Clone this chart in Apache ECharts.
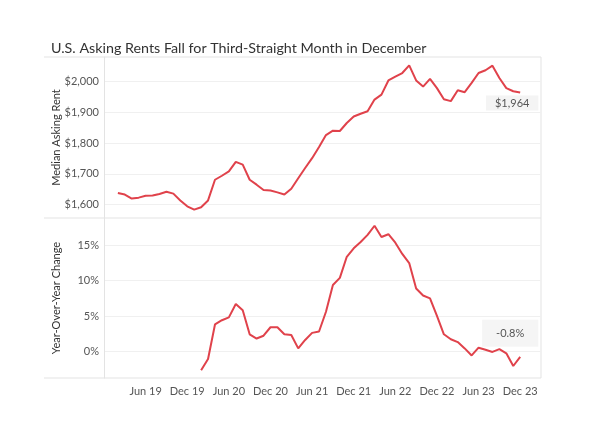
<!DOCTYPE html>
<html><head><meta charset="utf-8">
<script src="https://cdn.jsdelivr.net/npm/echarts@6/dist/echarts.min.js"></script>
<style>html,body{margin:0;padding:0;background:#fff}#c{width:600px;height:446px}</style>
</head><body><div id="c"></div>
<script>
const months = ['2019-02','2019-03','2019-04','2019-05','2019-06','2019-07','2019-08','2019-09','2019-10','2019-11','2019-12',
'2020-01','2020-02','2020-03','2020-04','2020-05','2020-06','2020-07','2020-08','2020-09','2020-10','2020-11','2020-12',
'2021-01','2021-02','2021-03','2021-04','2021-05','2021-06','2021-07','2021-08','2021-09','2021-10','2021-11','2021-12',
'2022-01','2022-02','2022-03','2022-04','2022-05','2022-06','2022-07','2022-08','2022-09','2022-10','2022-11','2022-12',
'2023-01','2023-02','2023-03','2023-04','2023-05','2023-06','2023-07','2023-08','2023-09','2023-10','2023-11','2023-12'];
const rent = [1638,1633,1620,1623,1629,1630,1635,1642,1636,1614,1595,
1584,1592,1614,1681,1694,1708,1739,1730,1681,1665,1648,1646,
1640,1633,1652,1686,1719,1751,1787,1826,1840,1839,1865,1886,
1895,1903,1941,1957,2003,2015,2027,2052,2003,1983,2008,1978,
1942,1936,1971,1965,1995,2027,2036,2051,2011,1978,1968,1964];
const yoyStart = '2020-02';
const yoy = [-2.7,-1.1,3.8,4.4,4.8,6.7,5.8,2.4,1.8,2.2,3.4,
3.4,2.4,2.3,0.4,1.6,2.6,2.8,5.6,9.4,10.4,13.4,14.6,
15.5,16.5,17.8,16.2,16.6,15.4,13.8,12.5,8.9,7.9,7.5,5.0,
2.4,1.7,1.3,0.4,-0.6,0.5,0.2,-0.1,0.3,-0.3,-2.1,-0.8];
const xTickLabels = ['Jun 19','Dec 19','Jun 20','Dec 20','Jun 21','Dec 21','Jun 22','Dec 22','Jun 23','Dec 23'];
const rentTicks = [1600,1700,1800,1900,2000];
const yoyTicks = [0,5,10,15];

function idx(m){const [y,mo]=m.split('-').map(Number);return (y-2018)*12+(mo-12);}
const FONT='Lato';
const RED='#e0424b';
const GRIDC='#e3e3e3';

const rentData = rent.map((v,i)=>[idx(months[i]),v]);
const last = rentData.length-1;
rentData[last] = {value: rentData[last], label:{show:true, position:'bottom', distance:3, offset:[-8,0],
  formatter: p=>'$'+p.value[1].toLocaleString('en-US'), color:'#555', fontSize:11, fontFamily:FONT,
  backgroundColor:'#f4f4f4', padding:[2,9,2,9]}};
const y0 = months.indexOf(yoyStart);
const yoyData = yoy.map((v,i)=>[idx(months[y0+i]),v]);
const ylast = yoyData.length-1;
yoyData[ylast] = {value: yoyData[ylast], label:{show:true, position:'top', distance:10, offset:[-10,0],
  formatter: p=>p.value[1].toFixed(1)+'%', color:'#555', fontSize:11, fontFamily:FONT,
  backgroundColor:'rgba(244,244,244,0.9)', padding:[8,14,8,14]}};

function xAxis(gi, showLabels){
  return {type:'value', gridIndex:gi, min:0, max:63, interval:6,
    axisLine:{show:false}, axisTick:{show:false}, splitLine:{show:false},
    axisLabel:{show:showLabels, margin:8, color:'#555', fontSize:11, fontFamily:FONT,
      formatter: v => (v>0 && v%6===0) ? (xTickLabels[v/6-1]||'') : ''}};
}
const chart = echarts.init(document.getElementById('c'));
chart.setOption({
  animation:false,
  title:{text:'U.S. Asking Rents Fall for Third-Straight Month in December', left:46, top:36,
    textStyle:{fontFamily:FONT, fontSize:14.3, fontWeight:'normal', color:'#333'}},
  grid:[{left:104, top:57, width:437, height:161, outerBoundsMode:'none'},
        {left:104, top:218, width:437, height:160, outerBoundsMode:'none'}],
  xAxis:[xAxis(0,false), xAxis(1,true)],
  yAxis:[
    {type:'value', gridIndex:0, min:1557, max:2079,
     name:'Median Asking Rent', nameLocation:'middle', nameGap:42, nameMoveOverlap:false,
     nameTextStyle:{color:'#333', fontSize:11, fontFamily:FONT},
     axisLine:{show:true, lineStyle:{color:GRIDC}}, axisTick:{show:false, customValues:rentTicks},
     splitLine:{show:true, lineStyle:{color:'#f0f0f0'}},
     axisLabel:{customValues:rentTicks, margin:5, color:'#555', fontSize:11, fontFamily:FONT,
       formatter:v=>'$'+v.toLocaleString('en-US')}},
    {type:'value', gridIndex:1, min:-3.8, max:18.9,
     name:'Year-Over-Year Change', nameLocation:'middle', nameGap:42, nameMoveOverlap:false,
     nameTextStyle:{color:'#333', fontSize:11, fontFamily:FONT},
     axisLine:{show:true, lineStyle:{color:GRIDC}}, axisTick:{show:false, customValues:yoyTicks},
     splitLine:{show:true, lineStyle:{color:'#f0f0f0'}},
     axisLabel:{customValues:yoyTicks, margin:5, color:'#555', fontSize:11, fontFamily:FONT,
       formatter:v=>v+'%'}}
  ],
  graphic:[
    {type:'line', shape:{x1:44,y1:57,x2:541,y2:57}, style:{stroke:GRIDC, lineWidth:1}},
    {type:'line', shape:{x1:44,y1:218,x2:541,y2:218}, style:{stroke:GRIDC, lineWidth:1}},
    {type:'line', shape:{x1:44,y1:378,x2:541,y2:378}, style:{stroke:GRIDC, lineWidth:1}},
    {type:'line', shape:{x1:541,y1:57,x2:541,y2:378}, style:{stroke:GRIDC, lineWidth:1}}
  ],
  series:[
    {type:'line', xAxisIndex:0, yAxisIndex:0, data:rentData, showSymbol:true, symbol:'circle', symbolSize:0,
     lineStyle:{color:RED, width:2}, itemStyle:{color:RED}},
    {type:'line', xAxisIndex:1, yAxisIndex:1, data:yoyData, showSymbol:true, symbol:'circle', symbolSize:0,
     lineStyle:{color:RED, width:2}, itemStyle:{color:RED}}
  ]
});
</script></body></html>
